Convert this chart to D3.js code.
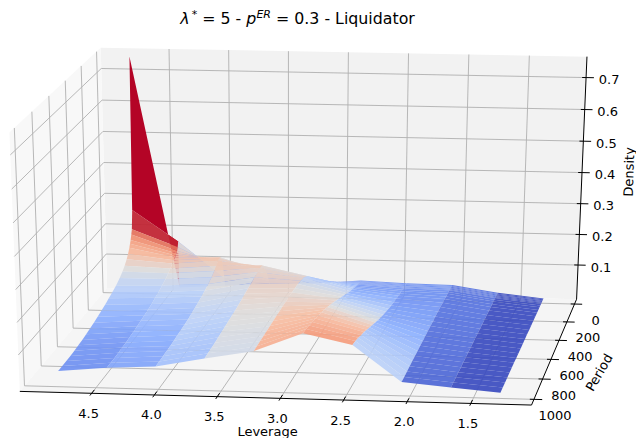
<!DOCTYPE html>
<html>
<head>
<meta charset="utf-8">
<script src="https://cdn.jsdelivr.net/npm/d3@7"></script>
<style>
html, body { margin: 0; padding: 0; background: #fff; }
svg { display: block; }
text { font-family: "DejaVu Sans", sans-serif; fill: #000; }
</style>
</head>
<body>
<div id="chart"></div>
<script>
// surface values, one list per leverage
var leverage = [4.8, 4.41, 4.02, 3.63, 3.24, 2.85, 2.46, 2.07, 1.68, 1.29];
var period = [0, 10, 20, 30, 40, 50, 60, 80, 100, 130, 160, 200, 250, 300, 350, 400, 450, 500, 550, 600, 650, 700, 750, 800, 850, 900, 950, 1000];

var density48 = [.752, .265, .205, .19, .175, .165, .155, .14, .128, .115, .105, .095, .085, .078, .072, .066, .061, .056, .052, .048, .045, .042, .04, .038, .037, .036, .036, .036];
var density44 = [.01, .165, .15, .14, .135, .13, .127, .123, .118, .11, .103, .095, .088, .082, .077, .072, .068, .065, .062, .059, .057, .055, .053, .052, .051, .05, .05, .05];
var density40 = [.02, .05, .08, .1, .115, .125, .13, .133, .13, .122, .114, .105, .097, .09, .085, .08, .077, .073, .07, .068, .066, .064, .062, .061, .06, .059, .058, .058];
var density36 = [.03, .035, .045, .055, .065, .075, .085, .1, .115, .127, .127, .125, .122, .118, .115, .112, .108, .105, .102, .1, .098, .096, .094, .092, .09, .089, .088, .087];
var density32 = [.035, .04, .045, .05, .055, .06, .065, .075, .085, .095, .103, .11, .115, .118, .119, .12, .12, .119, .119, .118, .118, .117, .116, .115, .115, .114, .113, .113];
var density28 = [.048, .048, .049, .05, .05, .051, .052, .053, .055, .06, .065, .07, .078, .087, .095, .103, .112, .12, .128, .135, .142, .148, .153, .158, .162, .166, .17, .172];
var density24 = [.042, .042, .042, .042, .043, .043, .043, .044, .045, .046, .047, .05, .052, .056, .06, .065, .07, .076, .082, .09, .097, .105, .112, .12, .125, .132, .137, .14];
var density20 = [.04, .04, .04, .04, .04, .04, .04, .04, .04, .04, .04, .04, .04, .04, .039, .038, .038, .037, .036, .035, .035, .034, .033, .033, .032, .031, .03, .03];
var density16 = [.018, .018, .018, .018, .018, .018, .018, .018, .018, .018, .018, .018, .018, .018, .018, .018, .018, .018, .018, .018, .018, .018, .018, .017, .017, .017, .017, .017];
var density12 = [.003, .003, .003, .003, .003, .003, .003, .003, .003, .003, .003, .003, .003, .003, .003, .004, .004, .004, .004, .004, .004, .005, .005, .005, .005, .005, .005, .005];
var densities = [density48, density44, density40, density36, density32, density28, density24, density20, density16, density12];

var leverageTicks = [4.5, 4.0, 3.5, 3.0, 2.5, 2.0, 1.5];
var periodTicks = [0, 200, 400, 600, 800, 1000];
var densityTicks = [0.1, 0.2, 0.3, 0.4, 0.5, 0.6, 0.7];

var width = 636, height = 438;

var svg = d3.select('#chart').append('svg')
    .attr('width', width)
    .attr('height', height);

// box axes, 0..1 on each side of the cube
var uScale = d3.scaleLinear().domain([5.075, 1.025]).range([0, 1]);
var vScale = d3.scaleLinear().domain([-55, 1055]).range([0, 1]);
var wScale = d3.scaleLinear().domain([-0.013, 0.765]).range([0, 1]);

// where the corners of the box sit in the window, camera is solved from these
var boxCorners = [
    [0, 1, 0, 20.7, 390],
    [1, 1, 0, 531.7, 406],
    [1, 0, 0, 576.7, 298],
    [0, 0, 0, 106, 289.5],
    [0, 0, 1, 102, 47],
    [1, 0, 1, 586.7, 57],
    [0, 1, 1, 8.3, 133]
];

function solveCamera(pts){
    var rows = [], rhs = [];
    pts.forEach(function(c){
        rows.push([c[0], c[1], c[2], 1, 0, 0, 0, 0, -c[3]*c[0], -c[3]*c[1], -c[3]*c[2]]); rhs.push(c[3]);
        rows.push([0, 0, 0, 0, c[0], c[1], c[2], 1, -c[4]*c[0], -c[4]*c[1], -c[4]*c[2]]); rhs.push(c[4]);
    });
    var n = 11, A = [];
    for (var i = 0; i < n; i++){
        A[i] = [];
        for (var j = 0; j < n; j++){
            A[i][j] = d3.sum(rows, function(r){ return r[i]*r[j]; });
        }
        A[i][n] = d3.sum(rows, function(r, k){ return r[i]*rhs[k]; });
    }
    for (var i = 0; i < n; i++){
        var best = i;
        for (var k = i+1; k < n; k++){ if (Math.abs(A[k][i]) > Math.abs(A[best][i])) best = k; }
        var tmp = A[i]; A[i] = A[best]; A[best] = tmp;
        for (var k = 0; k < n; k++){
            if (k == i) continue;
            var f = A[k][i]/A[i][i];
            for (var j = i; j <= n; j++){ A[k][j] -= f*A[i][j]; }
        }
    }
    return A.map(function(r, i){ return r[n]/r[i]; });
}

var cam = solveCamera(boxCorners);

function camW(u, v, w){ return cam[8]*u + cam[9]*v + cam[10]*w + 1; }
function cube(u, v, w){
    var d = camW(u, v, w);
    return [(cam[0]*u + cam[1]*v + cam[2]*w + cam[3])/d, (cam[4]*u + cam[5]*v + cam[6]*w + cam[7])/d];
}
function project(lev, per, den){
    return cube(uScale(lev), vScale(per), wScale(den));
}

var lineGen = d3.line();

// panes
var panes = [
    {fill: '#f2f2f2', pts: [[0,0,0],[1,0,0],[1,0,1],[0,0,1]]},
    {fill: '#f8f8f8', pts: [[0,0,0],[0,1,0],[0,1,1],[0,0,1]]},
    {fill: '#f5f5f5', pts: [[0,0,0],[1,0,0],[1,1,0],[0,1,0]]}
];
svg.append('g').selectAll('path').data(panes).join('path')
    .attr('d', function(d){ return lineGen(d.pts.map(function(p){ return cube(p[0], p[1], p[2]); })) + 'Z'; })
    .attr('fill', function(d){ return d.fill; });

// gridlines
var grid = [];
leverageTicks.forEach(function(t){
    var u = uScale(t);
    grid.push([[u,1,0],[u,0,0],[u,0,1]]);
});
periodTicks.forEach(function(t){
    var v = vScale(t);
    grid.push([[1,v,0],[0,v,0],[0,v,1]]);
});
densityTicks.forEach(function(t){
    var w = wScale(t);
    grid.push([[0,1,w],[0,0,w],[1,0,w]]);
});
svg.append('g').selectAll('path').data(grid).join('path')
    .attr('d', function(d){ return lineGen(d.map(function(p){ return cube(p[0], p[1], p[2]); })); })
    .attr('fill', 'none')
    .attr('stroke', '#b0b0b0')
    .attr('stroke-width', 0.9);

// surface faces, far ones first (depth taken on the floor so the spike does not jump the queue)
var coolwarm = d3.scaleLinear()
    .domain([0, .125, .25, .375, .5, .625, .75, .875, 1])
    .range(['#3b4cc0', '#6485ec', '#8db0fe', '#bbd1f8', '#dddcdc', '#f6bda2', '#f49a7b', '#d95847', '#b40426'])
    .clamp(true);
var faceColor = d3.scaleLinear().domain([0.012, 0.205]).range([0, 1]).clamp(true);

var faces = [];
for (var i = 0; i < leverage.length - 1; i++){
    for (var j = 0; j < period.length - 1; j++){
        var corners = [[i,j],[i+1,j],[i+1,j+1],[i,j+1]].map(function(c){
            return {lev: leverage[c[0]], per: period[c[1]], den: densities[c[0]][c[1]]};
        });
        faces.push({
            corners: corners,
            z: d3.mean(corners, function(c){ return c.den; }),
            depth: d3.mean(corners, function(c){ return camW(uScale(c.lev), vScale(c.per), 0); })
        });
    }
}
faces.sort(function(a, b){ return b.depth - a.depth; });

svg.append('g').selectAll('path').data(faces).join('path')
    .attr('d', function(d){ return lineGen(d.corners.map(function(c){ return project(c.lev, c.per, c.den); })) + 'Z'; })
    .attr('fill', function(d){ return coolwarm(faceColor(d.z)); })
    .attr('fill-opacity', function(d){ return d.z > 0.205 ? 1 : 0.93; });

// axis lines
var axisLine = [[0,1,0],[1,1,0],[1,0,0],[1,0,1]];
svg.append('path')
    .attr('d', lineGen(axisLine.map(function(p){ return cube(p[0], p[1], p[2]); })))
    .attr('fill', 'none')
    .attr('stroke', '#000')
    .attr('stroke-width', 1);

// tick stubs and labels
var tickG = svg.append('g');
function stub(a, b){
    tickG.append('path').attr('d', lineGen([a, b])).attr('stroke', '#000').attr('stroke-width', 1).attr('fill', 'none');
}
function tickText(x, y, s){
    tickG.append('text').attr('x', x).attr('y', y)
        .attr('text-anchor', 'middle').attr('dominant-baseline', 'middle')
        .style('font-size', '13px').text(s);
}
leverageTicks.forEach(function(t){
    var u = uScale(t);
    stub(cube(u, 0.97, 0), cube(u, 1.02, 0));
    var p = cube(u, 1, 0);
    tickText(p[0] - 3, p[1] + 21, t.toFixed(1));
});
periodTicks.forEach(function(t){
    var v = vScale(t);
    stub(cube(0.992, v, 0), cube(1.016, v, 0));
    var p = cube(1, v, 0);
    tickText(p[0] + 21, p[1] + 17, String(t));
});
densityTicks.forEach(function(t){
    var w = wScale(t);
    stub(cube(0.992, 0, w), cube(1.016, 0, w));
    var p = cube(1, 0, w);
    tickText(p[0] + 23, p[1] + 3, t.toFixed(1));
});

// axis names
function axisName(x, y, rot, s){
    svg.append('text')
        .attr('transform', 'translate(' + x + ',' + y + ') rotate(' + rot + ')')
        .attr('text-anchor', 'middle').attr('dominant-baseline', 'middle')
        .style('font-size', '13px').text(s);
}
axisName(267.5, 432, 0, 'Leverage');
axisName(600, 373, -60, 'Period');
axisName(630, 172, -88, 'Density');

// title
var title = svg.append('text').attr('x', 297.5).attr('y', 24).attr('text-anchor', 'middle').style('font-size', '15.8px');
title.append('tspan').style('font-style', 'italic').text('\u03bb');
title.append('tspan').attr('dy', -6).style('font-size', '11px').text('\u2009*');
title.append('tspan').attr('dy', 6).text(' = 5 - ');
title.append('tspan').style('font-style', 'italic').text('p');
title.append('tspan').attr('dy', -6).style('font-size', '11px').style('font-style', 'italic').text('ER');
title.append('tspan').attr('dy', 6).text(' = 0.3 - Liquidator');
</script>
</body>
</html>
